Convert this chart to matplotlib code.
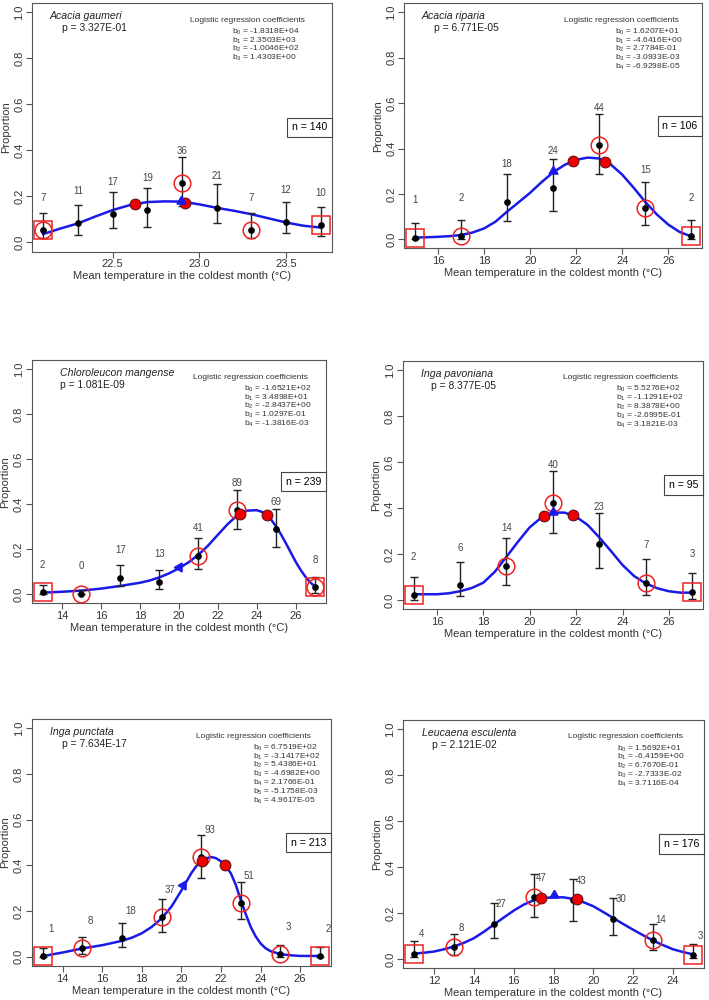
import matplotlib.pyplot as plt
from matplotlib.lines import Line2D
from matplotlib.ticker import MultipleLocator, FormatStrFormatter
import numpy as np

plt.rcParams['font.family'] = ['Liberation Sans', 'DejaVu Sans']
plt.rcParams['mathtext.fontset'] = 'custom'
plt.rcParams['mathtext.rm'] = 'Liberation Sans'
plt.rcParams['mathtext.it'] = 'Liberation Sans:italic'

# ---- data ----
species = ['Acacia gaumeri', 'Acacia riparia', 'Chloroleucon mangense',
           'Inga pavoniana', 'Inga punctata', 'Leucaena esculenta']
p_values = ['3.327E-01', '6.771E-05', '1.081E-09', '8.377E-05', '7.634E-17', '2.121E-02']
n_total = [140, 106, 239, 95, 213, 176]
coefs = [
    ['-1.8318E+04', '2.3503E+03', '-1.0046E+02', '1.4303E+00'],
    ['1.6207E+01', '-4.6416E+00', '2.7784E-01', '-3.0933E-03', '-6.9298E-05'],
    ['-1.6521E+02', '3.4898E+01', '-2.8437E+00', '1.0297E-01', '-1.3816E-03'],
    ['5.5276E+02', '-1.1291E+02', '8.3878E+00', '-2.6995E-01', '3.1821E-03'],
    ['6.7519E+02', '-3.1417E+02', '5.4386E+01', '-4.6982E+00', '2.1766E-01',
     '-5.1758E-03', '4.9617E-05'],
    ['1.5692E+01', '-6.4159E+00', '6.7670E-01', '-2.7333E-02', '3.7116E-04'],
]

x_bins = [
    [22.1, 22.3, 22.5, 22.7, 22.9, 23.1, 23.3, 23.5, 23.7],
    [15, 17, 19, 21, 23, 25, 27],
    [13, 15, 17, 19, 21, 23, 25, 27],
    [15, 17, 19, 21, 23, 25, 27],
    [13, 15, 17, 19, 21, 23, 25, 27],
    [11, 13, 15, 17, 19, 21, 23, 25],
]
prop = [
    [0.053, 0.082, 0.123, 0.140, 0.259, 0.150, 0.053, 0.088, 0.074],
    [0.006, 0.016, 0.166, 0.225, 0.414, 0.139, 0.016],
    [0.007, 0.001, 0.073, 0.055, 0.171, 0.374, 0.289, 0.031],
    [0.022, 0.065, 0.149, 0.423, 0.243, 0.075, 0.035],
    [0.003, 0.037, 0.081, 0.173, 0.437, 0.234, 0.012, 0.004],
    [0.023, 0.050, 0.153, 0.268, 0.255, 0.174, 0.083, 0.015],
]
ci_low = [
    [0.020, 0.032, 0.061, 0.068, 0.160, 0.082, 0.017, 0.039, 0.029],
    [0.000, 0.003, 0.082, 0.125, 0.286, 0.063, 0.000],
    [0.000, 0.000, 0.036, 0.021, 0.110, 0.288, 0.211, 0.006],
    [0.001, 0.019, 0.067, 0.290, 0.138, 0.022, 0.003],
    [0.000, 0.012, 0.041, 0.110, 0.344, 0.166, 0.000, 0.000],
    [0.007, 0.018, 0.090, 0.182, 0.166, 0.105, 0.039, 0.003],
]
ci_high = [
    [0.129, 0.164, 0.217, 0.236, 0.372, 0.253, 0.129, 0.175, 0.155],
    [0.070, 0.085, 0.286, 0.352, 0.551, 0.254, 0.085],
    [0.042, 0.018, 0.129, 0.107, 0.248, 0.463, 0.377, 0.077],
    [0.099, 0.164, 0.271, 0.562, 0.380, 0.178, 0.116],
    [0.037, 0.088, 0.149, 0.253, 0.535, 0.327, 0.051, 0.044],
    [0.077, 0.109, 0.244, 0.371, 0.346, 0.263, 0.153, 0.066],
]
counts = [
    [7, 11, 17, 19, 36, 21, 7, 12, 10],
    [1, 2, 18, 24, 44, 15, 2],
    [2, 0, 17, 13, 41, 89, 69, 8],
    [2, 6, 14, 40, 23, 7, 3],
    [1, 8, 18, 37, 93, 51, 3, 2],
    [4, 8, 27, 47, 43, 30, 14, 3],
]

# fitted logistic curves
curve_x = [
    [22.1, 22.2, 22.3, 22.4, 22.5, 22.6, 22.7, 22.8, 22.9, 23.0, 23.1, 23.2,
     23.3, 23.4, 23.5, 23.6, 23.7],
    [15, 15.5, 16, 16.5, 17, 17.5, 18, 18.5, 19, 19.5, 20, 20.5, 21, 21.5,
     22, 22.5, 23, 23.5, 24, 24.5, 25, 25.5, 26, 26.5, 27],
    [13, 14, 15, 16, 17, 18, 18.5, 19, 19.5, 20, 20.5, 21, 21.5, 22, 22.5,
     23, 23.25, 23.5, 24, 24.25, 24.5, 24.75, 25, 25.25, 25.5, 25.75, 26,
     26.25, 26.5, 26.75, 27],
    [15, 16, 16.5, 17, 17.5, 18, 18.5, 19, 19.5, 20, 20.5, 21, 21.5, 22,
     22.5, 23, 23.5, 24, 24.5, 25, 25.5, 26, 26.5, 27],
    [13, 14, 15, 16, 17, 17.5, 18, 18.5, 19, 19.5, 20, 20.5, 20.75, 21,
     21.25, 21.5, 21.75, 22, 22.25, 22.5, 22.75, 23, 23.25, 23.5, 23.75, 24,
     24.25, 24.5, 25, 25.5, 26, 27],
    [11, 11.5, 12, 12.5, 13, 13.5, 14, 14.5, 15, 15.5, 16, 16.5, 17, 17.5,
     18, 18.5, 19, 19.5, 20, 20.5, 21, 21.5, 22, 22.5, 23, 23.5, 24, 24.5,
     25],
]
curve_y = [
    [0.036, 0.060, 0.082, 0.112, 0.140, 0.162, 0.175, 0.178, 0.177, 0.165,
     0.150, 0.137, 0.122, 0.104, 0.086, 0.072, 0.064],
    [0.008, 0.009, 0.011, 0.014, 0.019, 0.030, 0.048, 0.078, 0.122, 0.163,
     0.205, 0.252, 0.295, 0.328, 0.350, 0.360, 0.356, 0.330, 0.285, 0.227,
     0.165, 0.110, 0.065, 0.032, 0.013],
    [0.006, 0.010, 0.015, 0.024, 0.036, 0.050, 0.060, 0.074, 0.092, 0.114,
     0.141, 0.174, 0.215, 0.263, 0.310, 0.350, 0.364, 0.371, 0.373, 0.366,
     0.352, 0.330, 0.300, 0.265, 0.226, 0.185, 0.144, 0.108, 0.077, 0.052,
     0.033],
    [0.025, 0.025, 0.029, 0.038, 0.052, 0.075, 0.123, 0.188, 0.254, 0.316,
     0.358, 0.380, 0.380, 0.362, 0.326, 0.272, 0.213, 0.152, 0.104, 0.072,
     0.051, 0.038, 0.032, 0.032],
    [0.003, 0.019, 0.037, 0.051, 0.070, 0.084, 0.103, 0.131, 0.168, 0.220,
     0.290, 0.366, 0.396, 0.418, 0.431, 0.437, 0.432, 0.418, 0.396, 0.366,
     0.315, 0.249, 0.188, 0.132, 0.090, 0.059, 0.038, 0.025, 0.012, 0.007,
     0.004, 0.004],
    [0.023, 0.027, 0.032, 0.042, 0.054, 0.070, 0.090, 0.118, 0.149, 0.180,
     0.210, 0.236, 0.255, 0.265, 0.268, 0.268, 0.261, 0.247, 0.229, 0.204,
     0.178, 0.152, 0.127, 0.103, 0.080, 0.060, 0.042, 0.030, 0.020],
]

circled_x = [
    [22.1, 22.9, 23.3],
    [17, 23, 25],
    [15, 21, 23, 27],
    [19, 21, 25],
    [15, 19, 21, 23, 25],
    [13, 17, 23],
]
peak_x = [[22.63, 22.915], [21.85, 23.26], [23.14, 24.51],
          [20.63, 21.88], [21.04, 22.19], [17.35, 19.18]]
peak_y = [[0.167, 0.169], [0.346, 0.342], [0.356, 0.352],
          [0.365, 0.370], [0.420, 0.400], [0.263, 0.261]]
tri_x = [22.897, 21.0, 20.01, 21.0, 20.07, 18.0]
tri_y = [0.179, 0.300, 0.119, 0.384, 0.315, 0.277]

# ---- layout (pixels: left, top, width, height) ----
W, H = 709, 1000
boxes = [(32, 3.2, 300, 248.3), (404, 3.2, 298.3, 245.2),
         (31.6, 360.3, 294.4, 242.7), (402.5, 360.8, 300.8, 248.4),
         (31.7, 719.2, 299.3, 246.8), (403, 719.9, 301, 248.2)]
x_step = [0.5, 2, 2, 2, 2, 2]
x_fmt = ['%.1f', '%d', '%d', '%d', '%d', '%d']
label_dy = [0.14, 0.165, 0.122, 0.163, 0.118, 0.086]
label_dx = [0, 0, 0, 0, 0.42, 0.38]
tri_angle = [0, 0, -30, 0, -30, 0]
species_fx = [0.06, 0.06, 0.095, 0.062, 0.061, 0.062]
pval_fx = [0.10, 0.10, 0.095, 0.096, 0.101, 0.095]
head_fx = [0.527, 0.537, 0.548, 0.533, 0.549, 0.548]
coef_fx = [0.666, 0.709, 0.721, 0.711, 0.739, 0.712]

dark = '#444444'
blue = '#1a1ae8'
fs = 8.0

fig = plt.figure(figsize=(W / 100, H / 100), dpi=100)

for i in range(6):
    l, t, w, h = boxes[i]
    ax = fig.add_axes([l / W, 1 - (t + h) / H, w / W, h / H])

    xb = np.array(x_bins[i])
    p = np.array(prop[i])
    lo = np.array(ci_low[i])
    hi = np.array(ci_high[i])

    ax.plot(curve_x[i], curve_y[i], color=blue, lw=1.8, zorder=2,
            solid_joinstyle='round')
    ax.errorbar(xb, p, yerr=[p - lo, hi - p], fmt='none', ecolor='#222222',
                elinewidth=1.0, capsize=2.6, capthick=1.0, zorder=3)
    ax.plot(xb, p, 'o', color='black', ms=3.8, zorder=4)

    cx = circled_x[i]
    cy = [p[list(xb).index(v)] for v in cx]
    ax.plot(cx, cy, 'o', ms=12, mfc='none', mec='#ee2222', mew=1.1, zorder=5)
    ax.plot([xb[0], xb[-1]], [p[0], p[-1]], 's', ms=12.5, mfc='none',
            mec='#ee2222', mew=1.1, zorder=5)
    ax.plot(peak_x[i], peak_y[i], 'o', ms=7.8, mfc='#ee0000', mec='#551111',
            mew=0.7, zorder=6)
    ax.plot(tri_x[i], tri_y[i], marker=(3, 0, tri_angle[i]), ms=7.5,
            color=blue, zorder=7)

    for xv, pv, c in zip(xb, p, counts[i]):
        ax.text(xv + label_dx[i], pv + label_dy[i], str(c), ha='center',
                va='center', fontsize=7.0, color=dark, clip_on=False)

    # axes like R
    rng = xb[-1] - xb[0]
    ax.set_xlim(xb[0] - 0.04 * rng, xb[-1] + 0.04 * rng)
    ax.set_ylim(-0.04, 1.04)
    ax.xaxis.set_major_locator(MultipleLocator(x_step[i]))
    ax.xaxis.set_major_formatter(FormatStrFormatter(x_fmt[i]))
    ax.set_yticks([0, 0.2, 0.4, 0.6, 0.8, 1.0])
    ax.yaxis.set_major_formatter(FormatStrFormatter('%.1f'))
    ax.tick_params(length=4, width=0.8, color='#555555', labelsize=fs,
                   labelcolor='#333333', pad=1.5)
    plt.setp(ax.get_yticklabels(), rotation=90, va='center')
    for s in ax.spines.values():
        s.set_color('#555555')
        s.set_linewidth(0.8)
    ax.set_xlabel('Mean temperature in the coldest month (\u00b0C)',
                  fontsize=fs, color='#333333', labelpad=1.5)
    ax.set_ylabel('Proportion', fontsize=fs, color='#333333', labelpad=2.5)

    # text block
    ax.text(species_fx[i], 1 - 13 / h, species[i], transform=ax.transAxes,
            fontsize=7.6, style='italic', color='#222222', va='center')
    ax.text(pval_fx[i], 1 - 25 / h, 'p = ' + p_values[i],
            transform=ax.transAxes, fontsize=7.4, color='#222222', va='center')
    ax.text(head_fx[i], 1 - 16.8 / h, 'Logistic regression coefficients',
            transform=ax.transAxes, fontsize=6.0, color='#333333', va='center')
    for k, c in enumerate(coefs[i]):
        ax.text(coef_fx[i], 1 - (28.5 + 8.8 * k) / h,
                'b$_{%d}$ = %s' % (k, c), transform=ax.transAxes,
                fontsize=6.0, color='#333333', va='center')

    leg = ax.legend([Line2D([], [], linestyle='none')],
                    ['n = %d' % n_total[i]], loc='center right',
                    borderaxespad=0, handlelength=0, handletextpad=0,
                    fontsize=7.6, fancybox=False, borderpad=0.45, framealpha=1)
    leg.get_frame().set_edgecolor('#444444')
    leg.get_frame().set_linewidth(0.8)

plt.savefig('out.png', dpi=100)
